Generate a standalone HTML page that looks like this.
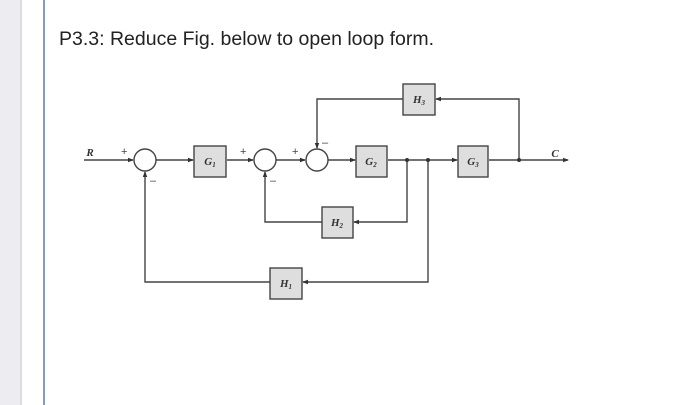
<!DOCTYPE html>
<html><head><meta charset="utf-8"><style>
html,body{margin:0;padding:0;width:700px;height:405px;overflow:hidden;background:#fff;}
</style></head><body>
<svg width="700" height="405" viewBox="0 0 700 405" xmlns="http://www.w3.org/2000/svg">
<defs>
<marker id="a" markerWidth="6" markerHeight="6" refX="5" refY="3" orient="auto" markerUnits="userSpaceOnUse">
<path d="M0,0.8 L6,3 L0,5.2 Z" fill="#333"/></marker>
</defs>
<rect x="0" y="0" width="22" height="405" fill="#ededf1"/>
<rect x="20" y="0" width="2" height="405" fill="#dcdce0"/>
<rect x="43" y="0" width="2" height="405" fill="#7f9cc8"/>
<text x="59" y="45" font-family="Liberation Sans, sans-serif" font-size="19.5" fill="#222">P3.3: Reduce Fig. below to open loop form.</text>
<g stroke="#444" stroke-width="1.4" fill="none">
<!-- main line -->
<line x1="84" y1="160" x2="133" y2="160" marker-end="url(#a)"/>
<line x1="156" y1="160" x2="193" y2="160" marker-end="url(#a)"/>
<line x1="227" y1="160" x2="253" y2="160" marker-end="url(#a)"/>
<line x1="276" y1="160" x2="305" y2="160" marker-end="url(#a)"/>
<line x1="328" y1="160" x2="355" y2="160" marker-end="url(#a)"/>
<line x1="388" y1="160" x2="457" y2="160" marker-end="url(#a)"/>
<line x1="489" y1="160" x2="568" y2="160" marker-end="url(#a)"/>
<!-- H3 loop -->
<polyline points="519,160 519,99 436,99" marker-end="url(#a)"/>
<polyline points="403,99 317,99 317,148" marker-end="url(#a)"/>
<!-- H2 loop -->
<polyline points="407,160 407,222 354,222" marker-end="url(#a)"/>
<polyline points="322,222 265,222 265,172" marker-end="url(#a)"/>
<!-- H1 loop -->
<polyline points="428,160 428,282 303,282" marker-end="url(#a)"/>
<polyline points="270,282 145,282 145,172" marker-end="url(#a)"/>
<circle cx="145" cy="160" r="11" fill="#fff"/>
<circle cx="265" cy="160" r="11" fill="#fff"/>
<circle cx="317" cy="160" r="11" fill="#fff"/>
</g>
<g fill="#333"><circle cx="407" cy="160" r="2"/><circle cx="428" cy="160" r="2"/><circle cx="519" cy="160" r="2"/></g>
<g fill="#dedede" stroke="#444" stroke-width="1.4">
<rect x="194" y="146" width="32" height="31"/>
<rect x="356" y="146" width="31" height="31"/>
<rect x="458" y="146" width="30" height="31"/>
<rect x="403" y="84" width="32" height="31"/>
<rect x="322" y="207" width="31" height="31"/>
<rect x="270" y="268" width="32" height="31"/>
</g>
<g font-family="Liberation Serif, serif" font-style="italic" font-weight="bold" font-size="11" fill="#333" text-anchor="middle">
<text x="210" y="165">G<tspan font-size="7" dy="2">1</tspan></text>
<text x="371" y="165">G<tspan font-size="7" dy="2">2</tspan></text>
<text x="473" y="165">G<tspan font-size="7" dy="2">3</tspan></text>
<text x="419" y="103">H<tspan font-size="7" dy="2">3</tspan></text>
<text x="337" y="226">H<tspan font-size="7" dy="2">2</tspan></text>
<text x="286" y="287">H<tspan font-size="7" dy="2">1</tspan></text>
<text x="90" y="156">R</text>
<text x="555" y="157">C</text>
</g>
<g font-family="Liberation Sans, sans-serif" font-size="11" fill="#444">
<text x="121" y="155">+</text>
<text x="240" y="155">+</text>
<text x="292" y="155">+</text>
<text x="150" y="184">–</text>
<text x="270" y="184">–</text>
<text x="322" y="146">–</text>
</g>
</svg>
</body></html>
